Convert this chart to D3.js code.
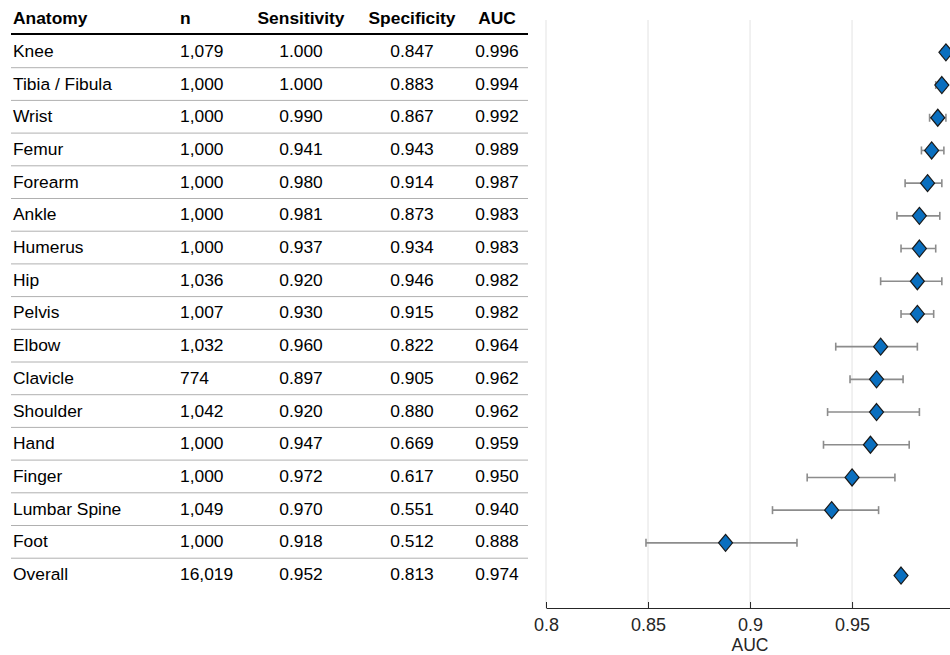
<!DOCTYPE html>
<html>
<head>
<meta charset="utf-8">
<script src="https://cdn.jsdelivr.net/npm/d3@7"></script>
<style>
  body { margin: 0; background: #fff; }
  svg { font-family: "Liberation Sans", Arial, Helvetica, sans-serif; }
</style>
</head>
<body>
<svg id="forestChart" width="950" height="655"></svg>
<script>
// table rows, top to bottom
const anatomy = ['Knee', 'Tibia / Fibula', 'Wrist', 'Femur', 'Forearm', 'Ankle', 'Humerus', 'Hip',
  'Pelvis', 'Elbow', 'Clavicle', 'Shoulder', 'Hand', 'Finger', 'Lumbar Spine', 'Foot', 'Overall'];
const nCases = [1079, 1000, 1000, 1000, 1000, 1000, 1000, 1036, 1007, 1032, 774, 1042, 1000, 1000, 1049, 1000, 16019];
const sensitivity = [1.000, 1.000, 0.990, 0.941, 0.980, 0.981, 0.937, 0.920, 0.930, 0.960, 0.897, 0.920, 0.947, 0.972, 0.970, 0.918, 0.952];
const specificity = [0.847, 0.883, 0.867, 0.943, 0.914, 0.873, 0.934, 0.946, 0.915, 0.822, 0.905, 0.880, 0.669, 0.617, 0.551, 0.512, 0.813];
const auc = [0.996, 0.994, 0.992, 0.989, 0.987, 0.983, 0.983, 0.982, 0.982, 0.964, 0.962, 0.962, 0.959, 0.950, 0.940, 0.888, 0.974];
// 95% CI
const ciLow = [0.994, 0.991, 0.988, 0.984, 0.976, 0.972, 0.974, 0.964, 0.974, 0.942, 0.949, 0.938, 0.936, 0.928, 0.911, 0.849, 0.973];
const ciHigh = [0.998, 0.996, 0.996, 0.995, 0.994, 0.993, 0.991, 0.994, 0.990, 0.982, 0.975, 0.983, 0.978, 0.971, 0.963, 0.923, 0.975];

const xTicks = [0.8, 0.85, 0.9, 0.95];
const xTickLabels = ['0.8', '0.85', '0.9', '0.95'];

document.addEventListener('DOMContentLoaded', function () {
  svg = d3.select('#forestChart');

  rows = anatomy.map((a, i) => ({
    name: a, n: nCases[i], sens: sensitivity[i], spec: specificity[i],
    auc: auc[i], lo: ciLow[i], hi: ciHigh[i]
  }));

  yScale = d3.scaleBand()
    .domain(anatomy)
    .range([35, 35 + 32.7 * anatomy.length]);

  drawTable();
  drawForest();
});

function drawTable() {
  const fmt3 = d3.format('.3f');
  const fmtN = d3.format(',');
  const cols = [
    { head: 'Anatomy', x: 13, anchor: 'start', val: d => d.name },
    { head: 'n', x: 180, anchor: 'start', val: d => fmtN(d.n) },
    { head: 'Sensitivity', x: 301, anchor: 'middle', val: d => fmt3(d.sens) },
    { head: 'Specificity', x: 412, anchor: 'middle', val: d => fmt3(d.spec) },
    { head: 'AUC', x: 497, anchor: 'middle', val: d => fmt3(d.auc) }
  ];

  const t = svg.append('g');

  // header
  t.selectAll('.head').data(cols).enter().append('text')
    .attr('x', c => c.x)
    .attr('y', 24)
    .attr('text-anchor', c => c.anchor)
    .attr('font-size', '17.4px')
    .attr('font-weight', 'bold')
    .attr('fill', '#000')
    .text(c => c.head);

  t.append('line')
    .attr('x1', 11).attr('x2', 528)
    .attr('y1', 34).attr('y2', 34)
    .attr('stroke', '#000').attr('stroke-width', 2);

  // row separators (none under last row)
  t.selectAll('.sep').data(rows.slice(0, -1)).enter().append('line')
    .attr('x1', 11).attr('x2', 528)
    .attr('y1', d => yScale(d.name) + yScale.bandwidth())
    .attr('y2', d => yScale(d.name) + yScale.bandwidth())
    .attr('stroke', '#b0b0b0').attr('stroke-width', 1);

  cols.forEach(c => {
    t.selectAll(null).data(rows).enter().append('text')
      .attr('x', c.x)
      .attr('y', d => yScale(d.name) + yScale.bandwidth() / 2 + 5.5)
      .attr('text-anchor', c.anchor)
      .attr('font-size', '17.4px')
      .attr('fill', '#000')
      .text(d => c.val(d));
  });
}

function drawForest() {
  const xScale = d3.scaleLinear()
    .domain([0.8, 0.998])
    .range([546, 950]);
  const axisY = 608;

  const g = svg.append('g');

  // vertical grid
  g.selectAll('.grid').data(xTicks).enter().append('line')
    .attr('x1', d => xScale(d)).attr('x2', d => xScale(d))
    .attr('y1', 20).attr('y2', axisY)
    .attr('stroke', '#e3e3e3').attr('stroke-width', 1);

  const xAxis = d3.axisBottom(xScale)
    .tickValues(xTicks)
    .tickFormat((d, i) => xTickLabels[i])
    .tickSizeInner(-6)
    .tickSizeOuter(0)
    .tickPadding(10);

  const ax = g.append('g')
    .attr('transform', `translate(0,${axisY})`)
    .call(xAxis);
  ax.select('.domain').attr('stroke', '#262626');
  ax.selectAll('.tick line').attr('stroke', '#262626');
  ax.selectAll('.tick text')
    .attr('font-size', '18px')
    .attr('font-family', '"Liberation Sans", Arial, sans-serif')
    .attr('fill', '#262626');

  g.append('text')
    .attr('x', xScale(0.9))
    .attr('y', 651)
    .attr('text-anchor', 'middle')
    .attr('font-size', '17.5px')
    .attr('fill', '#262626')
    .text('AUC');

  const cy = d => yScale(d.name) + yScale.bandwidth() / 2 + 1;

  // error bars
  g.selectAll('.ci').data(rows).enter().append('line')
    .attr('x1', d => xScale(d.lo)).attr('x2', d => xScale(d.hi))
    .attr('y1', cy).attr('y2', cy)
    .attr('stroke', '#8c8c8c').attr('stroke-width', 1.6);
  ['lo', 'hi'].forEach(k => {
    g.selectAll(null).data(rows).enter().append('line')
      .attr('x1', d => xScale(d[k])).attr('x2', d => xScale(d[k]))
      .attr('y1', d => cy(d) - 4).attr('y2', d => cy(d) + 4)
      .attr('stroke', '#8c8c8c').attr('stroke-width', 1.6);
  });

  // diamonds
  g.selectAll('.pt').data(rows).enter().append('path')
    .attr('transform', d => `translate(${xScale(d.auc)},${cy(d)})`)
    .attr('d', 'M0,-8.5L7,0L0,8.5L-7,0Z')
    .attr('fill', '#0a6fbf')
    .attr('stroke', '#1a1a1a')
    .attr('stroke-width', 1.2);
}
</script>
</body>
</html>
